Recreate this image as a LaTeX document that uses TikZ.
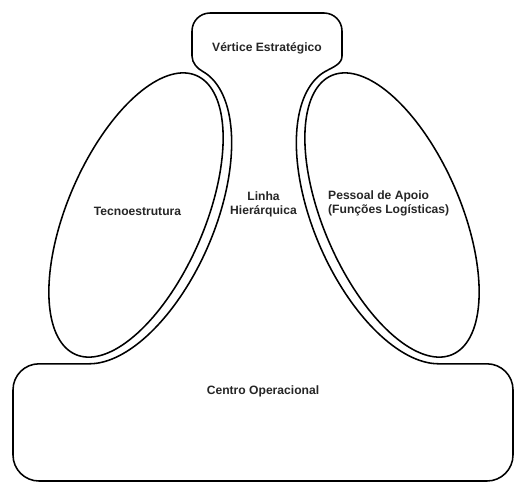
\documentclass[tikz,border=0pt]{standalone}
\usepackage{fontspec}
\setmainfont{Liberation Sans}
\begin{document}
\begin{tikzpicture}[x=1pt,y=-1pt,
  outline/.style={draw=black,line width=1.55pt,line join=round},
  lbl/.style={font=\fontsize{12.1}{14}\selectfont\bfseries,inner sep=0pt,text=black!85}]
\useasboundingbox[fill=white] (0,0) rectangle (516,483);
% outer contour: top box, line hugging the ellipses, bottom box
\draw[outline] (192,40) -- (192,31) .. controls (192,21.06) and (200.06,13) .. (210,13)
  -- (324,13) .. controls (333.94,13) and (342,21.06) .. (342,31) -- (342,56)
  .. controls (342,64) and (333.2,67) .. (325.4,71.4)
  -- plot[domain=3:167.9,samples=80,variable=\t] ({392-62.94*cos(\t)-72.05*sin(\t)},{215-145.47*cos(\t)+31.17*sin(\t)})
  -- (487,363.8) .. controls (501.36,363.8) and (513,375.44) .. (513,389.8)
  -- (513,455) .. controls (513,469.36) and (501.36,481) .. (487,481)
  -- (39,481) .. controls (24.64,481) and (13,469.36) .. (13,455)
  -- (13,389.8) .. controls (13,375.44) and (24.64,363.8) .. (39,363.8)
  -- (89.56,363.8)
  -- plot[domain=167.9:3,samples=80,variable=\t] ({136+62.94*cos(\t)+72.05*sin(\t)},{215-145.47*cos(\t)+31.17*sin(\t)})
  .. controls (197.4,68.5) and (192,63) .. (192,56) -- cycle;
% Tecnoestrutura ellipse
\draw[outline] plot[domain=0:360,samples=145,variable=\t] ({136+60.36*cos(\t)+62.87*sin(\t)},{215-139.5*cos(\t)+27.2*sin(\t)}) -- cycle;
% Pessoal de Apoio ellipse
\draw[outline] plot[domain=0:360,samples=145,variable=\t] ({392-60.36*cos(\t)-62.87*sin(\t)},{215-139.5*cos(\t)+27.2*sin(\t)}) -- cycle;
% labels
\node[lbl] (vertice) at (267,48) {Vértice Estratégico};
\node[lbl] (tecno) at (137.5,211) {Tecnoestrutura};
\node[lbl,align=center] (linha) at (263.5,204) {Linha\\Hierárquica};
\node[lbl,align=left,anchor=west] (apoio) at (328,203) {Pessoal de Apoio\\(Funções Logísticas)};
\node[lbl] (centro) at (263,391) {Centro Operacional};
\end{tikzpicture}
\end{document}
